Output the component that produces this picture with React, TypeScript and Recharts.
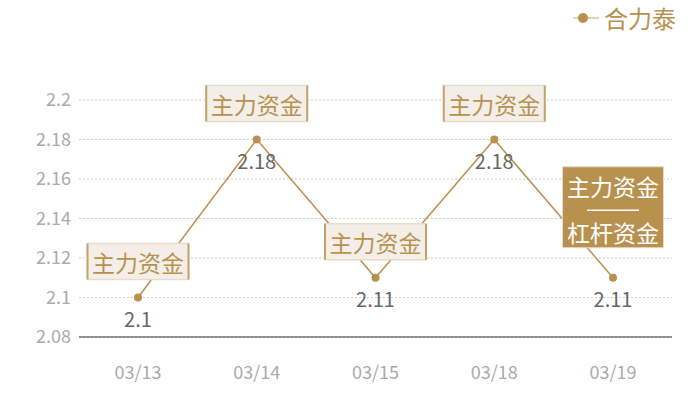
import React from 'react';
import { LineChart, Line, XAxis, YAxis, CartesianGrid, Legend, LabelList } from 'recharts';

const dates = ['03/13', '03/14', '03/15', '03/18', '03/19'];
const prices = [2.1, 2.18, 2.11, 2.18, 2.11];
const notes = [['主力资金'], ['主力资金'], ['主力资金'], ['主力资金'], ['主力资金', '杠杆资金']];
const yTicks = [2.08, 2.1, 2.12, 2.14, 2.16, 2.18, 2.2];
const seriesName = '合力泰';

const GOLD = '#b8914f';
const FONT = '"Noto Sans CJK SC", "Noto Sans", sans-serif';

const data = dates.map((d, i) => ({ date: d, price: prices[i], note: notes[i] }));

function ValueLabel(props: any) {
  const { x, y, value } = props;
  return (
    <text x={x} y={y + 21} textAnchor="middle" dominantBaseline="central" fill="#666" fontSize={20} fontFamily={FONT}>
      {value}
    </text>
  );
}

function NoteLabel(props: any) {
  const { x, y, index } = props;
  const lines = notes[index];
  const w = 101;
  if (lines.length === 1) {
    const h = 36;
    const left = x - w / 2;
    const top = y - 18 - h;
    return (
      <g>
        <rect x={left} y={top} width={w} height={h} fill="#f3efe8" stroke="#e8dcc8" strokeWidth={1.5} />
        <line x1={left} y1={top} x2={left} y2={top + h} stroke="#c4a26a" strokeWidth={2} />
        <line x1={left + w} y1={top} x2={left + w} y2={top + h} stroke="#c4a26a" strokeWidth={2} />
        <text x={x} y={top + h / 2} textAnchor="middle" dominantBaseline="central" fill={GOLD} fontSize={23} fontFamily={FONT}>
          {lines[0]}
        </text>
      </g>
    );
  }
  const h = 81;
  const left = x - w / 2;
  const top = y - 30 - h;
  return (
    <g>
      <rect x={left} y={top} width={w} height={h} fill={GOLD} stroke="#e8dcc8" strokeWidth={1} />
      <text x={x} y={top + 19} textAnchor="middle" dominantBaseline="central" fill="#fff" fontSize={23} fontFamily={FONT}>
        {lines[0]}
      </text>
      <line x1={x - 26} y1={top + 43.5} x2={x + 26} y2={top + 43.5} stroke="#fff" strokeWidth={1.5} />
      <text x={x} y={top + 65} textAnchor="middle" dominantBaseline="central" fill="#fff" fontSize={23} fontFamily={FONT}>
        {lines[1]}
      </text>
    </g>
  );
}

function XTick(props: any) {
  const { x, y, payload } = props;
  return (
    <text x={x} y={y + 26} textAnchor="middle" dominantBaseline="central" fill="#aaa" fontSize={18} fontFamily={FONT}>
      {payload.value}
    </text>
  );
}

function LegendBox() {
  return (
    <div style={{ display: 'flex', justifyContent: 'flex-end', alignItems: 'center', height: 32, paddingRight: 24, fontFamily: FONT }}>
      <svg width={26} height={20} style={{ marginRight: 5 }}>
        <line x1={0} y1={10} x2={26} y2={10} stroke="#d8c4a2" strokeWidth={1.5} />
        <circle cx={10} cy={10} r={5} fill={GOLD} />
      </svg>
      <span style={{ color: GOLD, fontSize: 24, lineHeight: '32px' }}>{seriesName}</span>
    </div>
  );
}

export default function App() {
  return (
    <div style={{ position: 'absolute', left: 0, top: 0, width: 700, height: 400, background: '#fff' }}>
      <LineChart width={700} height={400} data={data} margin={{ top: 68, right: 28, left: 0, bottom: 33 }}>
        <CartesianGrid vertical={false} stroke="#ccc" strokeDasharray="2 2" />
        <XAxis
          dataKey="date"
          height={30}
          padding={{ left: 59, right: 59 }}
          tickLine={false}
          axisLine={{ stroke: '#333', strokeWidth: 1 }}
          tick={<XTick />}
          interval={0}
        />
        <YAxis
          width={79}
          domain={[2.08, 2.2]}
          ticks={yTicks}
          tickLine={false}
          axisLine={false}
          tick={{ fill: '#aaa', fontSize: 18, fontFamily: FONT }}
        />
        <Legend
          verticalAlign="top"
          content={() => <LegendBox />}
          wrapperStyle={{ top: 2, left: 0, width: 700 }}
        />
        <Line
          name={seriesName}
          dataKey="price"
          stroke={GOLD}
          strokeWidth={1.5}
          dot={{ r: 4, fill: GOLD, stroke: GOLD, strokeWidth: 0 }}
          isAnimationActive={false}
        >
          <LabelList dataKey="price" content={<ValueLabel />} />
          <LabelList dataKey="date" content={<NoteLabel />} />
        </Line>
      </LineChart>
    </div>
  );
}
